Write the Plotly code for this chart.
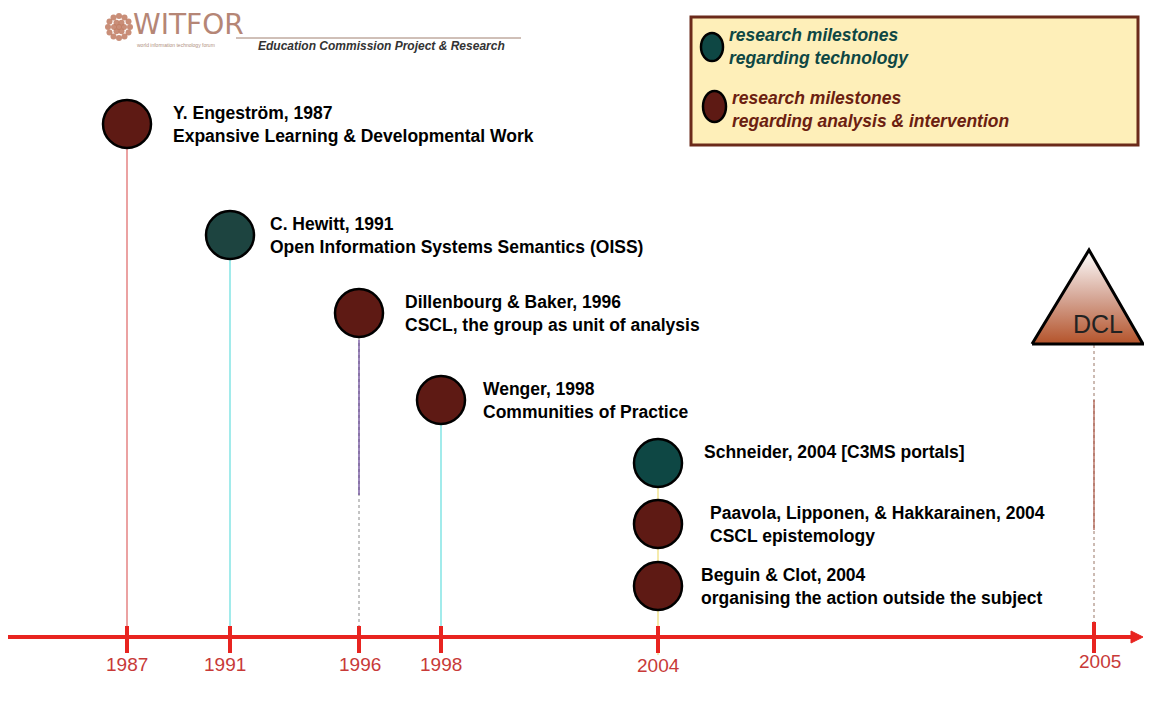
import numpy as np
import plotly.graph_objects as go

# ---------------- data ----------------
years = [1987, 1991, 1996, 1998, 2004, 2005]
year_labels = ["1987", "1991", "1996", "1998", "2004", "2005"]

ms_year = [1987, 1991, 1996, 1998, 2004, 2004, 2004]
ms_author = ["Y. Engeström, 1987", "C. Hewitt, 1991", "Dillenbourg & Baker, 1996",
             "Wenger, 1998", "Schneider, 2004 [C3MS portals]",
             "Paavola, Lipponen, & Hakkarainen, 2004", "Beguin & Clot, 2004"]
ms_title = ["Expansive Learning & Developmental Work",
            "Open Information Systems Semantics (OISS)",
            "CSCL, the group as unit of analysis",
            "Communities of Practice", "",
            "CSCL epistemology",
            "organising the action outside the subject"]
ms_kind = ["analysis", "technology", "analysis", "analysis", "technology", "analysis", "analysis"]

legend_labels = ["research milestones<br>regarding technology",
                 "research milestones<br>regarding analysis & intervention"]

# ---------------- layout (pixel scale of the diagram) ----------------
W, H = 1152, 720
OFF = 8   # page body margin
tick_px = [127, 230, 359, 441, 658, 1094]          # timeline scale positions
label_dx = [0, -5, 1, 0, 0, 6]
label_y = [664, 664, 664, 664, 665, 661]
level_y = [124, 235, 313, 400, 463, 524, 586]       # stacking levels of milestones
text_dx = [44, 38, 44, 40, 44, 50, 41]
axis_y = 637
stem_color = ["#e07070", "#70e0e0", "#8a8acc", "#70e0e0", "#f0e080", "#f0e080", "#f0e080"]
tech_col, anal_col = "#0e4744", "#5e1a14"
kind_color = {"technology": tech_col, "analysis": anal_col}
hewitt_col = "#1d4440"
FONT = "Liberation Sans, Arial"

def xscale(y):
    return tick_px[years.index(y)]

fig = go.Figure()
shapes, annots = [], []

# stems
for i, y in enumerate(ms_year):
    x = xscale(y)
    if ms_year.count(y) > 1 and i != ms_year.index(y):
        continue
    top = level_y[i]
    if y == 1996:
        fig.add_trace(go.Scatter(x=[x, x], y=[top, axis_y], mode="lines",
                                 line=dict(color="#888", width=1, dash="dot"),
                                 hoverinfo="skip", showlegend=False))
        fig.add_trace(go.Scatter(x=[x, x], y=[340, 495], mode="lines",
                                 line=dict(color="#6a4a9a", width=1.3),
                                 hoverinfo="skip", showlegend=False))
    else:
        fig.add_trace(go.Scatter(x=[x, x], y=[top, 655 if y == 2004 else axis_y], mode="lines",
                                 line=dict(color=stem_color[i], width=1.3),
                                 hoverinfo="skip", showlegend=False))

# DCL stem
xd = xscale(2005)
fig.add_trace(go.Scatter(x=[xd, xd], y=[345, axis_y], mode="lines",
                         line=dict(color="#997766", width=1, dash="dot"),
                         hoverinfo="skip", showlegend=False))
fig.add_trace(go.Scatter(x=[xd, xd], y=[400, 530], mode="lines",
                         line=dict(color="#b06050", width=1.3),
                         hoverinfo="skip", showlegend=False))

# axis line + arrow + ticks
shapes.append(dict(type="line", x0=OFF, x1=1138, y0=axis_y, y1=axis_y, xref="x", yref="y",
                   line=dict(color="#e82420", width=4)))
shapes.append(dict(type="path", path=f"M 1131 {axis_y-6} L 1143 {axis_y} L 1131 {axis_y+6} Z",
                   xref="x", yref="y", fillcolor="#e82420", line=dict(color="#e82420", width=1)))
for i, y in enumerate(years):
    x = xscale(y)
    y0 = 622 if y == 2005 else 626
    shapes.append(dict(type="line", x0=x, x1=x, y0=y0, y1=653, xref="x", yref="y",
                       line=dict(color="#e82420", width=4)))
    annots.append(dict(x=x + label_dx[i], y=label_y[i], text=year_labels[i], showarrow=False,
                       xref="x", yref="y", font=dict(family=FONT, size=19, color="#c83a38")))

# milestone circles
colors = [kind_color[k] for k in ms_kind]
colors[1] = hewitt_col
fig.add_trace(go.Scatter(x=[xscale(y) for y in ms_year], y=level_y, mode="markers",
                         marker=dict(size=48, color=colors, line=dict(color="black", width=2.5)),
                         hoverinfo="skip", showlegend=False))

# milestone text
for i in range(len(ms_year)):
    txt = ms_author[i] + ("<br>" + ms_title[i] if ms_title[i] else "")
    annots.append(dict(x=xscale(ms_year[i]) + text_dx[i], y=level_y[i] + (0 if ms_title[i] else -11),
                       text=txt, showarrow=False, xref="x", yref="y", xanchor="left",
                       align="left", yanchor="middle",
                       font=dict(family=FONT, size=17.5, color="black", weight="bold")))

# DCL triangle with gradient
fig.add_trace(go.Scatter(x=[1032, 1089, 1143, 1032], y=[344, 250, 344, 344], mode="lines",
                         fill="toself", cliponaxis=False,
                         fillgradient=dict(type="vertical",
                                           colorscale=[[0, "#b4532a"], [0.5, "#d6a898"], [1, "#ffffff"]]),
                         line=dict(color="black", width=3), hoverinfo="skip", showlegend=False))
annots.append(dict(x=1098, y=324, text="DCL", showarrow=False, xref="x", yref="y",
                   font=dict(family=FONT, size=25, color="#222")))

# legend box
shapes.append(dict(type="rect", x0=691, x1=1138, y0=17, y1=145, xref="x", yref="y",
                   fillcolor="#feefb9", line=dict(color="#6b2a1a", width=3), layer="below"))
shapes.append(dict(type="circle", x0=701, x1=723, y0=33, y1=61, xref="x", yref="y",
                   fillcolor=tech_col, line=dict(color="black", width=2.5)))
shapes.append(dict(type="circle", x0=703, x1=726, y0=91, y1=122, xref="x", yref="y",
                   fillcolor=anal_col, line=dict(color="black", width=2.5)))
annots.append(dict(x=727, y=46, text=legend_labels[0], showarrow=False, xref="x", yref="y",
                   xanchor="left", align="left",
                   font=dict(family=FONT, size=17.5, color=tech_col, weight="bold", style="italic")))
annots.append(dict(x=730, y=109, text=legend_labels[1], showarrow=False, xref="x", yref="y",
                   xanchor="left", align="left",
                   font=dict(family=FONT, size=17.5, color="#6b2010", weight="bold", style="italic")))

# header / logo
ang = np.linspace(0, 2 * np.pi, 12, endpoint=False)
fx = list(119 + 11 * np.cos(ang)) + list(119 + 5 * np.cos(ang[::2])) + [119]
fy = list(27 + 11 * np.sin(ang)) + list(27 + 5 * np.sin(ang[::2])) + [27]
fig.add_trace(go.Scatter(x=fx, y=fy, mode="markers",
                         marker=dict(size=6, color="#c07a60", opacity=0.85),
                         hoverinfo="skip", showlegend=False))
annots.append(dict(x=131, y=24, text="WITFOR", showarrow=False, xref="x", yref="y",
                   xanchor="left", font=dict(family="DejaVu Sans, sans-serif", size=28,
                                             color="#b58676")))
annots.append(dict(x=135, y=45, text="world information technology forum", showarrow=False,
                   xref="x", yref="y", xanchor="left",
                   font=dict(family=FONT, size=5, color="#b09080")))
shapes.append(dict(type="line", x0=236, x1=521, y0=38, y1=38, xref="x", yref="y",
                   line=dict(color="#a08070", width=1)))
annots.append(dict(x=256, y=46, text="Education Commission Project & Research", showarrow=False,
                   xref="x", yref="y", xanchor="left",
                   font=dict(family=FONT, size=12, color="#333", style="italic", weight="bold")))

fig.update_layout(
    width=W - 2 * OFF, height=H - 2 * OFF, margin=dict(l=0, r=0, t=0, b=0),
    paper_bgcolor="white", plot_bgcolor="white",
    xaxis=dict(range=[OFF, W - OFF], visible=False, fixedrange=True),
    yaxis=dict(range=[H - OFF, OFF], visible=False, fixedrange=True),
    shapes=shapes, annotations=annots, showlegend=False,
)
fig.write_html("out.html")
